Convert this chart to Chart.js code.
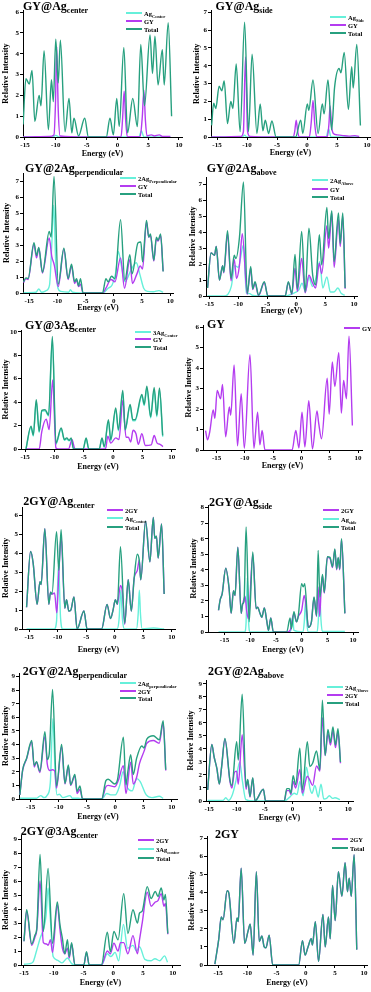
<!DOCTYPE html>
<html>
<head>
<meta charset="utf-8">
<script src="https://cdn.jsdelivr.net/npm/chart.js@4.4.1/dist/chart.umd.min.js"></script>
<style>
  body { margin: 0; width: 371px; height: 992px; position: relative; overflow: hidden; background: #fff;
         font-family: "Liberation Serif", "Times New Roman", serif; }
  canvas { position: absolute; }
  .ttl { position: absolute; font-weight: bold; font-size: 12px; line-height: 12px; white-space: nowrap; color: #000; }
  .ttl sub { font-size: 8px; vertical-align: -2.5px; line-height: 0; }
  .leg { position: absolute; height: 8px; display: flex; align-items: center; white-space: nowrap;
         font-weight: bold; font-size: 6.5px; color: #000; }
  .leg i { display: inline-block; width: 16px; height: 2px; margin-right: 2px; }
  .leg sub { font-size: 4.5px; vertical-align: -1.5px; line-height: 0; }
</style>
</head>
<body>
<script>
const GREEN = "#27a07f";
const PURPLE = "#b43cf0";
const CYAN = "#66f0da";

const xTicks = [-15, -10, -5, 0, 5, 10];
const yTicks6 = [0, 1, 2, 3, 4, 5, 6];
const yTicks7 = [0, 1, 2, 3, 4, 5, 6, 7];
const yTicks8 = [0, 1, 2, 3, 4, 5, 6, 7, 8];
const yTicks9 = [0, 1, 2, 3, 4, 5, 6, 7, 8, 9];
const yTicks10 = [0, 2, 4, 6, 8, 10];

// GY@Ag center
const p1TotE = [-15.3,-14.85,-14.3,-13.85,-13.4,-12.7,-12.4,-11.9,-11.2,-10.7,-10.4,-10.0,-9.6,-9.25,-8.5,-7.85,-7.4,-7.05,-6.3,-5.3,-4.7,-1.8,-1.2,-0.65,-0.1,0.3,1.05,1.65,2.5,3.25,3.8,4.4,5.3,5.7,6.1,6.6,7.3,7.6,8.25,8.8];
const p1TotI = [0.6,2.8,2.55,3.2,0.75,2.0,1.5,4.15,0.35,2.75,1.7,4.7,2.6,4.65,0.25,1.85,0.2,0.9,0.05,0.9,0,0,0.9,0.1,1.85,0.5,4.3,0.2,1.85,0.5,4.45,1.5,4.9,3.05,4.85,2.5,4.2,2.5,5.5,1.0];
const p1GyE = [-15.3,-11.0,-10.3,-10.05,-9.85,-9.6,-9.3,-5.0,-0.5,0.6,0.85,1.1,1.35,1.6,3.7,4.05,4.3,4.55,4.8,5.5,6.0,6.8,7.3,8.6];
const p1GyI = [0,0.03,0.1,1.6,4.35,1.3,0.05,0,0,0.02,0.9,2.2,0.8,0.02,0.02,1.0,2.25,0.8,0.05,0.1,0.05,0.1,0.03,0.03];
const p1AgE = [-15.3,-10.5,-10.0,-9.5,3.5,3.9,4.3,8.6];
const p1AgI = [0,0,0.08,0,0,0.3,0,0];

// GY@Ag side
const p2TotE = [-15.9,-15.55,-15.2,-14.65,-14.2,-13.8,-13.25,-12.7,-12.35,-11.8,-11.15,-10.4,-9.75,-9.15,-8.35,-7.8,-7.35,-6.95,-6.4,-5.85,-5.15,-1.9,-1.05,-0.7,0.05,0.3,1.0,1.85,2.55,2.85,3.5,4.1,4.6,5.35,5.65,6.2,6.9,7.45,7.7,8.3,8.9];
const p2TotI = [0.65,1.9,1.6,2.85,2.6,3.15,0.75,2.0,1.6,4.1,0.3,6.45,0.3,4.65,0.2,1.85,0.35,0.95,0.2,0.9,0,0,0.95,0.2,1.85,1.5,3.2,0.2,1.85,1.3,3.2,0.4,2.8,3.85,3.6,4.75,1.55,3.95,2.75,5.2,0.65];
const p2GyE = [-15.9,-11.0,-10.6,-10.25,-9.9,-9.5,-5,-2.3,-2.05,-1.8,-1.55,-1.3,0.4,0.7,1.0,1.3,1.6,3.4,3.65,3.85,4.1,4.4,5.0,6.0,7.0,8.0,8.7];
const p2GyI = [0,0.03,0.3,4.5,0.3,0.03,0,0,0.3,0.95,0.3,0,0.02,0.8,2.05,0.7,0.02,0.02,0.7,1.75,0.6,0.2,0.12,0.08,0.05,0.08,0.03];
const p2AgE = [-15.9,-10.8,-10.4,-10.0,3.2,3.6,4.0,8.7];
const p2AgI = [0,0,0.1,0,0,0.45,0,0];

// GY@2Ag perpendicular
const p3TotE = [-16.0,-15.6,-15.2,-14.15,-13.7,-13.3,-12.65,-11.45,-11.1,-10.6,-9.85,-8.85,-8.1,-7.5,-6.95,-6.6,-6.25,-5.9,-5.45,-2.0,-1.4,-1.0,-0.4,0.2,1.2,1.95,2.85,3.25,4.3,4.8,5.1,5.8,6.2,6.5,7.1,7.55,7.85,8.3,8.75];
const p3TotI = [0.7,0.95,0.9,3.15,2.35,2.85,1.3,3.85,3.5,7.3,0.55,2.8,0.9,1.8,0.7,0.9,0.45,0.9,0,0,0.9,0.7,1.05,0.9,4.6,0.8,2.4,1.2,3.15,3.2,1.95,4.55,3.5,3.7,2.05,3.5,3.3,3.7,1.35];
const p3GyE = [-16.0,-15.6,-15.2,-14.15,-13.7,-13.3,-12.65,-11.45,-11.0,-10.55,-9.85,-8.85,-8.1,-7.5,-6.95,-6.6,-6.25,-5.9,-5.45,-2.0,-1.4,-0.5,0.2,1.2,1.9,2.85,3.3,4.1,4.7,5.1,5.8,6.2,6.5,7.1,7.55,7.85,8.3,8.75];
const p3GyI = [0.65,0.9,0.85,3.05,2.2,2.8,1.25,3.45,2.3,1.75,0.4,2.75,0.85,1.7,0.6,0.8,0.4,0.55,0,0,0.3,0.85,0.7,2.2,0.3,2.1,0.6,1.2,1.7,1.5,4.45,3.5,3.6,2.0,3.4,3.25,3.6,1.36];
const p3AgE = [-16.0,-13.8,-13.3,-12.8,-12.0,-11.4,-11.0,-10.65,-10.3,-9.9,-9.4,-8.0,-7.7,-7.3,-6.0,-2.0,-1.0,-0.3,0.3,0.8,1.3,2.0,3.0,4.0,4.6,5.3,6.0,7.0,8.0,8.75];
const p3AgI = [0.02,0.05,0.25,0.05,0.15,0.5,3.0,5.5,2.0,0.3,0.1,0.05,0.2,0.05,0,0,0.3,0.5,1.2,2.6,1.8,0.7,1.4,1.9,1.2,0.3,0.1,0.08,0.15,0.05];

// GY@2Ag above
const p4TotE = [-15.3,-14.7,-14.1,-13.8,-13.25,-12.7,-12.5,-11.85,-11.25,-10.7,-10.4,-9.8,-9.1,-8.45,-7.85,-7.5,-7.1,-6.5,-5.5,-4.9,-1.9,-1.35,-0.75,-0.2,0.2,0.95,1.55,2.2,2.85,3.35,4.0,4.4,5.3,5.6,6.15,6.55,7.3,7.6,8.05,8.45];
const p4TotI = [0.5,2.7,2.55,3.1,1.0,1.9,1.5,4.1,1.1,2.55,2.35,3.65,7.15,0.15,1.85,0.45,0.9,0.05,0.9,0,0,0.9,0.15,2.6,0.45,4.05,0.25,4.25,1.3,0.7,3.85,1.95,5.55,3.6,5.35,2.15,5.2,3.3,5.2,0.5];
const p4GyE = [-15.3,-14.7,-14.1,-13.8,-13.25,-12.7,-12.5,-11.85,-11.25,-10.7,-10.3,-9.8,-9.3,-8.45,-7.85,-7.5,-7.1,-6.5,-5.5,-4.9,-1.9,-1.35,-0.75,-0.2,0.2,0.95,1.55,2.2,2.85,3.35,4.0,4.4,5.3,5.6,6.15,6.55,7.3,7.6,8.05,8.45];
const p4GyI = [0.5,2.7,2.55,3.1,1.0,1.9,1.45,3.9,0.95,2.3,1.1,1.9,3.9,0.1,1.75,0.4,0.8,0.02,0.85,0,0,0.85,0.1,1.75,0.3,2.35,0.2,1.3,0.8,0.5,2.05,1.4,4.4,3.0,5.2,1.8,4.8,3.1,5.0,0.45];
const p4AgE = [-15.3,-12.5,-11.8,-11.2,-10.6,-10.0,-9.1,-8.6,-8.0,-7.6,-6.5,-2.0,-0.3,0.5,1.0,1.6,2.2,2.8,3.4,4.05,4.6,5.3,5.9,6.5,7.2,7.8,8.4];
const p4AgI = [0,0,0.1,0.6,1.9,1.8,3.2,0.2,0.15,0.05,0,0,0.2,0.4,0.8,0.3,1.2,0.6,1.1,2.15,0.5,1.2,0.25,0.25,0.5,0.15,0.05];

// GY@3Ag center
const p5TotE = [-14.85,-14.0,-13.6,-13.1,-12.6,-12.15,-11.6,-11.0,-10.35,-9.75,-8.85,-8.3,-7.9,-7.5,-7.15,-6.75,-5.1,-4.6,-4.15,-2.35,-1.9,-1.5,-0.8,-0.4,0.45,0.9,1.65,2.05,2.9,3.35,3.75,4.9,5.3,5.75,6.4,7.0,7.45,7.9,8.45];
const p5TotI = [0,1.95,1.2,4.2,1.5,3.3,3.35,2.9,9.6,0.5,1.8,0.8,0.95,0.75,0.95,0,0,0.95,0,0,0.95,0.2,2.5,0.8,3.5,1.65,5.0,1.65,3.8,2.5,2.5,4.65,3.8,5.35,2.75,5.25,2.85,5.2,1.15];
const p5GyE = [-14.85,-12.6,-12.15,-11.4,-10.9,-10.3,-9.75,-9.4,-7.6,-7.0,-6.5,-1.3,-0.9,-0.4,0.45,1.0,1.65,2.2,2.6,3.0,3.4,3.9,4.3,4.9,5.5,6.5,7.0,7.5,8.0,8.5];
const p5GyI = [0,0,1.5,2.55,1.65,5.9,0.1,0,0,0.8,0,0,1.1,0.5,0.95,0.8,4.15,1.0,1.0,0.6,1.6,1.3,0.4,1.3,0.3,0.35,1.15,0.5,0.4,0.2];
const p5AgE = [-14.85,-14.0,-13.6,-13.1,-12.6,-12.15,-11.6,-11.0,-10.35,-9.75,-8.85,-8.3,-7.9,-7.5,-7.15,-6.75,-5.1,-4.6,-4.15,-2.35,-1.9,-1.5,-0.8,-0.4,0.45,0.9,1.65,2.05,2.9,3.35,3.75,4.9,5.3,5.75,6.4,7.0,7.45,7.9,8.45];
const p5AgI = [0,1.85,1.1,4.1,1.4,3.2,3.25,2.8,9.4,0.4,1.7,0.75,0.85,0.7,0.8,0,0,0.9,0,0,0.9,0.15,2.4,0.7,3.35,1.55,4.8,1.55,3.7,2.4,2.4,4.5,3.7,5.2,2.65,5.1,2.75,5.05,1.05];

// GY
const p6GyE = [-16.95,-16.6,-16.2,-15.6,-15.3,-14.9,-14.3,-13.95,-13.4,-12.75,-12.5,-11.9,-11.3,-10.65,-10.1,-9.1,-8.4,-7.75,-7.35,-6.95,-6.45,-1.65,-1.0,-0.45,0.1,0.6,1.3,1.95,2.75,3.05,3.55,4.55,4.9,5.45,5.9,6.6,7.05,7.45,7.95,8.4,9.0];
const p6GyI = [0.95,0.5,0.9,1.95,1.55,2.9,2.5,3.2,0.65,2.1,1.7,4.15,0.2,2.75,0.08,4.65,0.08,1.85,0.25,0.95,0,0,0.95,0.1,1.85,0.15,2.4,0.05,1.9,1.3,0.55,3.5,1.75,4.3,3.1,4.75,1.8,3.4,2.5,5.55,1.2];

// 2GY@Ag center
const p7TotE = [-15.45,-14.75,-14.3,-13.6,-13.1,-12.9,-12.25,-11.55,-11.25,-11.0,-10.2,-9.8,-9.4,-8.75,-8.45,-8.05,-7.7,-7.15,-6.6,-5.4,-4.85,-2.3,-1.35,-0.75,-0.3,0.1,0.45,1.0,1.75,2.35,2.9,3.4,3.95,4.3,4.55,5.4,6.15,6.75,7.0,7.3,7.6,8.2,8.65];
const p7TotI = [1.15,4.1,3.5,1.3,2.5,2.35,5.3,1.3,1.95,1.85,5.15,3.1,5.25,1.1,1.55,0.95,1.0,1.7,0,0.95,0,0,1.3,0.55,1.0,1.55,1.3,4.35,0.3,2.6,0.95,2.7,3.95,3.6,2.6,5.7,3.55,5.9,4.8,4.9,3.75,5.55,1.85];
const p7GyE = [-15.45,-14.75,-14.3,-13.6,-13.1,-12.9,-12.25,-11.55,-11.25,-11.0,-10.55,-10.15,-9.8,-9.4,-8.75,-8.45,-8.05,-7.7,-7.15,-6.6,-5.4,-4.85,-2.3,-1.35,-0.75,-0.3,0.1,0.45,1.0,1.35,1.75,2.35,2.9,3.4,3.95,4.3,4.55,5.4,6.15,6.75,7.0,7.3,7.6,8.2,8.65];
const p7GyI = [1.15,4.1,3.5,1.3,2.5,2.35,5.3,1.3,1.95,1.85,1.9,0.85,3.0,4.9,1.1,1.55,0.95,1.0,1.7,0,0.95,0,0,1.3,0.55,1.0,1.55,1.3,2.3,1.9,0.25,2.6,0.95,2.7,3.1,3.65,2.6,5.7,3.55,5.9,4.8,4.9,3.75,5.55,1.85];
const p7AgE = [-15.45,-10.6,-10.2,-9.85,-9.5,-9.1,0.4,0.75,1.05,1.35,1.7,3.8,4.1,4.3,4.5,4.8,6.8,8.65];
const p7AgI = [0,0,0.4,3.5,0.6,0,0,0.5,2.05,0.5,0,0,0.8,2.05,0.8,0,0.05,0];

// 2GY@Ag side
const p8TotE = [-16.15,-15.85,-15.45,-14.75,-14.1,-13.7,-13.25,-12.95,-12.4,-11.75,-11.5,-11.2,-10.8,-10.2,-9.5,-8.85,-8.55,-8.1,-7.75,-7.25,-6.8,-6.45,-6.0,-5.5,-2.9,-2.25,-2.0,-1.5,-1.0,-0.65,0.0,0.3,0.6,1.3,1.9,2.4,2.9,3.2,3.55,4.05,4.4,5.0,5.5,6.0,6.45,6.8,7.1,7.4,7.75,8.4];
const p8TotI = [1.4,2.05,2.45,4.1,2.8,1.2,2.65,2.35,5.45,1.2,1.8,1.95,6.75,0.65,5.15,1.5,1.6,1.2,0.95,1.55,0.75,0.1,0.9,0,0,0.9,0.2,1.3,0.65,1.05,3.1,2.9,3.1,0.3,0.65,2.25,1.05,5.25,2.25,3.7,2.55,4.85,4.8,4.2,5.35,4.05,4.8,4.05,6.0,1.2];
const p8GyE = [-16.15,-15.85,-15.45,-14.75,-14.1,-13.7,-13.25,-12.95,-12.4,-11.75,-11.5,-11.0,-10.7,-10.35,-9.5,-8.85,-8.55,-8.1,-7.75,-7.25,-6.8,-6.45,-6.0,-5.5,-2.9,-2.25,-1.5,-1.0,-0.65,0.0,0.5,1.0,1.3,1.9,2.4,2.9,3.2,3.5,3.8,4.05,4.4,5.0,5.5,6.0,6.45,6.8,7.1,7.4,7.75,8.4];
const p8GyI = [1.4,2.05,2.45,4.1,2.8,1.2,2.65,2.35,5.45,1.2,1.7,2.3,1.4,0.85,5.0,1.5,1.6,1.2,0.95,1.55,0.75,0.1,0.9,0,0,0.1,1.2,0.65,1.0,1.4,2.35,1.2,0.3,0.65,2.2,1.0,2.9,1.0,2.8,3.6,2.5,4.8,4.75,4.15,5.3,4.0,4.75,4.0,5.95,1.2];
const p8AgE = [-16.15,-11.1,-10.8,-10.55,-10.3,-10.0,-2.2,-1.95,-1.75,-1.5,0.2,0.5,0.75,1.0,1.3,3.0,3.25,3.5,3.75,4.0,8.4];
const p8AgI = [0,0,0.6,3.5,0.6,0,0,0.4,1.0,0.1,0,0.6,1.95,0.6,0,0,0.8,2.6,0.8,0.05,0.03];

// 2GY@2Ag perpendicular
const p9TotE = [-16.9,-16.4,-15.7,-14.8,-14.35,-13.95,-13.35,-12.45,-12.05,-11.7,-11.1,-10.4,-9.5,-8.9,-8.3,-7.9,-7.15,-6.75,-6.25,-5.8,-2.4,-1.65,-1.25,-0.05,0.4,1.45,1.9,2.2,2.75,3.2,3.8,4.7,5.1,5.6,6.75,7.8,8.5,8.95];
const p9TotI = [0.3,2.15,3.0,4.3,2.45,2.75,2.05,4.95,2.9,3.3,8.05,0.95,4.0,1.15,2.5,1.05,1.8,0.55,0.95,0,0,1.35,1.45,1.1,1.4,4.55,1.05,1.9,3.25,1.8,3.0,3.9,3.75,4.4,4.65,4.35,5.75,2.15];
const p9GyE = [-16.9,-16.4,-15.7,-14.8,-14.35,-13.95,-13.35,-12.45,-12.05,-11.6,-11.1,-10.7,-10.4,-9.5,-8.9,-8.3,-7.9,-7.15,-6.75,-6.25,-5.8,-2.4,-1.65,-1.25,-0.05,0.5,1.45,1.9,2.75,3.2,3.8,4.3,5.1,5.6,6.75,7.8,8.5,8.95];
const p9GyI = [0.3,2.1,2.95,4.2,2.35,2.7,1.95,4.6,2.6,2.1,2.15,2.05,0.8,3.85,1.1,2.4,1.0,1.7,0.4,0.7,0,0,0.9,1.0,0.9,1.3,2.45,0.4,2.7,1.1,1.6,2.6,3.5,4.1,4.3,4.1,5.6,2.1];
const p9AgE = [-16.9,-14.0,-13.2,-12.6,-12.0,-11.5,-11.05,-10.6,-10.3,-9.9,-9.3,-8.0,-7.6,-6.5,-5.8,-2.4,-1.5,-0.8,0.0,0.8,1.4,2.2,3.0,3.8,4.4,5.5,6.5,7.8,8.5];
const p9AgI = [0.05,0.05,0.25,0.1,0.3,1.2,5.9,1.5,0.3,0.35,0.1,0.25,0.05,0.05,0,0,0.4,0.3,0.3,1.0,2.0,0.8,0.6,1.5,1.3,0.3,0.1,0.2,0.05];

// 2GY@2Ag above
const p10TotE = [-15.25,-14.5,-14.1,-13.6,-13.15,-12.75,-12.15,-11.25,-10.9,-10.05,-9.75,-9.05,-8.35,-8.05,-7.65,-7.15,-6.75,-5.25,-4.85,-1.5,-1.05,-0.6,-0.3,0.1,0.55,1.3,1.75,2.65,3.1,3.6,4.3,4.9,5.35,5.85,6.35,6.8,7.25,7.7,8.15,8.6];
const p10TotI = [0.85,4.35,3.4,2.5,1.3,2.6,4.8,1.6,1.2,4.55,3.15,8.2,1.1,1.65,0.35,1.8,0,0.9,0,0,0.95,0.95,0.6,1.95,1.25,4.05,0.85,4.55,2.65,2.9,3.85,2.4,7.75,3.5,5.5,4.5,5.7,4.3,5.55,3.0];
const p10GyE = [-15.25,-14.5,-14.1,-13.6,-13.15,-12.75,-12.15,-11.25,-10.9,-10.45,-10.05,-9.75,-9.05,-8.35,-8.05,-7.65,-7.15,-6.75,-5.25,-4.85,-1.5,-1.05,-0.6,-0.3,0.1,0.55,1.3,1.75,2.65,3.1,3.6,4.3,4.6,4.9,5.35,5.85,6.35,6.8,7.25,7.7,8.15,8.6];
const p10GyI = [0.85,4.35,3.4,2.5,1.3,2.6,4.75,1.5,1.0,2.2,2.3,1.3,5.1,0.9,1.6,0.3,1.75,0,0.9,0,0,0.8,0.8,0.5,1.5,1.0,2.4,0.6,1.9,1.6,1.2,2.7,2.5,2.3,6.4,3.5,5.2,4.3,5.4,4.1,5.3,2.9];
const p10AgE = [-15.25,-12.5,-12.0,-11.5,-10.8,-10.2,-9.5,-9.0,-8.4,-7.0,-1.5,-0.5,0.3,0.8,1.3,1.9,2.5,3.1,3.5,4.0,4.6,5.1,5.6,6.1,6.6,7.2,7.6,8.5];
const p10AgI = [0.05,0.05,0.25,0.05,0.5,1.5,3.0,1.5,0.1,0,0,0.3,0.6,0.5,1.5,0.4,2.6,1.0,0.6,1.2,0.3,1.3,0.15,0.2,0.4,0.2,0.25,0.1];

// 2GY@3Ag center
const p11TotE = [-15.0,-14.55,-13.7,-13.15,-12.85,-12.3,-11.75,-10.95,-10.2,-9.4,-8.95,-8.55,-8.15,-7.7,-7.4,-7.0,-6.45,-4.95,-4.5,-4.05,-2.0,-1.0,-0.5,0.1,0.8,1.75,2.45,3.3,4.05,4.4,4.85,5.7,6.35,7.05,7.5,8.05,8.5,8.75,9.15];
const p11TotI = [1.7,3.95,1.5,2.15,2.6,7.9,2.4,6.9,1.55,4.5,2.85,1.9,0.8,1.8,0.6,1.6,0,0,0.95,0,0,2.35,0.95,2.4,1.8,5.1,2.25,3.95,3.0,3.7,3.85,5.6,4.75,5.25,4.9,5.5,4.65,5.05,2.25];
const p11GyE = [-15.0,-14.55,-13.7,-13.15,-12.85,-12.3,-11.75,-11.2,-10.95,-10.55,-10.2,-9.4,-8.95,-8.55,-8.15,-7.7,-7.4,-7.0,-6.45,-4.95,-4.5,-4.05,-2.0,-1.0,-0.5,0.1,0.8,1.2,1.75,2.45,3.3,4.05,4.4,4.85,5.7,6.35,7.05,7.5,8.05,8.5,8.75,9.15];
const p11GyI = [1.7,3.85,1.4,2.0,2.5,6.0,1.6,1.5,1.4,1.8,0.9,4.3,2.5,1.2,0.8,1.2,0.5,1.5,0,0,0.9,0,0,1.0,0.8,1.55,1.0,1.6,1.6,0.8,2.1,0.8,1.8,3.0,5.2,4.2,4.5,4.6,5.1,4.2,4.4,2.2];
const p11AgE = [-15.0,-14.0,-13.5,-12.9,-12.3,-11.7,-11.3,-10.95,-10.6,-10.1,-9.4,-8.6,-7.7,-7.0,-6.4,-2.0,-1.0,-0.4,0.3,0.9,1.7,2.4,3.3,3.9,4.4,5.3,6.3,7.0,7.8,8.6,9.1];
const p11AgI = [0.05,0.1,0.2,1.0,1.9,2.6,3.5,5.5,3.5,0.6,0.35,0.15,0.5,0.1,0,0,0.8,0.6,0.9,0.3,2.9,1.2,1.4,1.0,1.3,0.4,0.3,0.45,0.3,0.65,0.2];

// 2GY
const p12TotE = [-15.55,-14.9,-14.45,-14.15,-13.45,-13.15,-12.3,-11.75,-11.55,-11.05,-10.45,-9.85,-9.5,-9.0,-8.45,-7.95,-7.5,-7.1,-6.8,-6.25,-5.65,-1.2,-0.55,-0.1,0.4,0.95,1.15,1.65,2.2,2.95,3.35,3.9,4.2,4.6,5.05,5.6,6.2,6.75,7.15,7.45,7.8,8.3,8.75];
const p12TotI = [0.05,1.4,2.65,2.5,4.1,3.95,1.2,2.6,2.4,5.35,1.2,1.9,2.25,0.55,5.15,1.3,1.6,1.0,0.95,1.65,0,0,1.35,0.55,1.0,1.45,1.1,2.4,0.2,2.8,1.0,2.65,1.45,4.4,2.45,5.15,3.8,5.65,4.05,4.8,3.8,6.1,0.85];

const ORDER = { [GREEN]: 0, [PURPLE]: 1, [CYAN]: 2 };
const FONT = "'Liberation Serif', 'Times New Roman', serif";

// layout: area = [left, top, right, bottom] of plot box in page pixels
const panels = [
  { title: "GY@Ag<sub>center</sub>", tx: 23, tb: 10,
    area: [23, 10.1, 182, 137], xr: [-15.32, 10.49], ymax: 6.1, yt: yTicks6, yw: 23, xh: 22,
    leg: [126, 13, 8.2],
    series: [["Ag<sub>Center</sub>", CYAN, p1AgE, p1AgI], ["GY", PURPLE, p1GyE, p1GyI], ["Total", GREEN, p1TotE, p1TotI]] },
  { title: "GY@Ag<sub>side</sub>", tx: 215.5, tb: 10,
    area: [211, 10.6, 370, 137], xr: [-16.0, 10.5], ymax: 7.1, yt: yTicks7, yw: 20.5, xh: 21,
    leg: [330, 16.7, 8],
    series: [["Ag<sub>Side</sub>", CYAN, p2AgE, p2AgI], ["GY", PURPLE, p2GyE, p2GyI], ["Total", GREEN, p2TotE, p2TotI]] },
  { title: "GY@2Ag<sub>perpendicular</sub>", tx: 25, tb: 172,
    area: [23, 173, 173, 293], xr: [-16.1, 10.5], ymax: 7.52, yt: yTicks7, yw: 22, xh: 20,
    leg: [120, 178.3, 8],
    series: [["2Ag<sub>Perpendicular</sub>", CYAN, p3AgE, p3AgI], ["GY", PURPLE, p3GyE, p3GyI], ["Total", GREEN, p3TotE, p3TotI]] },
  { title: "GY@2Ag<sub>above</sub>", tx: 206.7, tb: 172.3,
    area: [206, 177, 357, 296], xr: [-15.57, 10.5], ymax: 7.46, yt: yTicks7, yw: 19.5, xh: 19.5,
    leg: [311.7, 180, 8.6],
    series: [["2Ag<sub>Above</sub>", CYAN, p4AgE, p4AgI], ["GY", PURPLE, p4GyE, p4GyI], ["Total", GREEN, p4TotE, p4TotI]] },
  { title: "GY@3Ag<sub>center</sub>", tx: 25, tb: 329,
    area: [21, 330, 175, 449], xr: [-15.7, 10.55], ymax: 10.15, yt: yTicks10, yw: 21, xh: 22.5,
    leg: [135, 332, 7.4],
    series: [["3Ag<sub>Center</sub>", CYAN, p5AgE, p5AgI], ["GY", PURPLE, p5GyE, p5GyI], ["Total", GREEN, p5TotE, p5TotI]] },
  { title: "GY", tx: 207, tb: 328,
    area: [203, 325, 362, 450], xr: [-17.4, 10.7], ymax: 6.1, yt: yTicks6, yw: 20, xh: 21,
    leg: [344, 328.3, 8],
    series: [["GY", PURPLE, p6GyE, p6GyI]] },
  { title: "2GY@Ag<sub>center</sub>", tx: 23.3, tb: 505,
    area: [22, 507, 175, 629], xr: [-16.25, 10.55], ymax: 6.45, yt: yTicks6, yw: 22, xh: 26,
    leg: [106.7, 510, 8.3],
    series: [["2GY", PURPLE, p7GyE, p7GyI], ["Ag<sub>Center</sub>", CYAN, p7AgE, p7AgI], ["Total", GREEN, p7TotE, p7TotI]] },
  { title: "2GY@Ag<sub>side</sub>", tx: 209, tb: 505.5,
    area: [208, 505, 358, 632], xr: [-18.2, 10.95], ymax: 8.17, yt: yTicks8, yw: 20, xh: 23,
    leg: [323, 510, 8.6],
    series: [["2GY", PURPLE, p8GyE, p8GyI], ["Ag<sub>side</sub>", CYAN, p8AgE, p8AgI], ["Total", GREEN, p8TotE, p8TotI]] },
  { title: "2GY@2Ag<sub>perpendicular</sub>", tx: 22.7, tb: 675,
    area: [19, 673, 177, 799], xr: [-17.05, 10.95], ymax: 9.26, yt: yTicks9, yw: 19, xh: 22.5,
    leg: [120, 682.7, 7.8],
    series: [["2Ag<sub>perpendicular</sub>", CYAN, p9AgE, p9AgI], ["2GY", PURPLE, p9GyE, p9GyI], ["Total", GREEN, p9TotE, p9TotI]] },
  { title: "2GY@2Ag<sub>above</sub>", tx: 208, tb: 675,
    area: [206, 680, 353, 801], xr: [-15.55, 10.85], ymax: 9.3, yt: yTicks9, yw: 21, xh: 22,
    leg: [326.7, 687.3, 8],
    series: [["2Ag<sub>Above</sub>", CYAN, p10AgE, p10AgI], ["2GY", PURPLE, p10GyE, p10GyI], ["Total", GREEN, p10TotE, p10TotI]] },
  { title: "2GY@3Ag<sub>center</sub>", tx: 20.7, tb: 835,
    area: [21, 835, 180, 965], xr: [-15.5, 11.2], ymax: 9.29, yt: yTicks9, yw: 21, xh: 23,
    leg: [138.3, 840, 9.1],
    series: [["2GY", PURPLE, p11GyE, p11GyI], ["3Ag<sub>center</sub>", CYAN, p11AgE, p11AgI], ["Total", GREEN, p11TotE, p11TotI]] },
  { title: "2GY", tx: 215, tb: 837.5,
    area: [207, 836, 367, 965], xr: [-16.9, 10.5], ymax: 7.13, yt: yTicks7, yw: 21, xh: 23,
    leg: [331.7, 839, 9.3],
    series: [["2GY", PURPLE, p12TotE, p12TotI], ["Total", GREEN, p12TotE, p12TotI]] }
];

function addTitle(p) {
  const d = document.createElement("div");
  d.className = "ttl";
  d.style.left = p.tx + "px";
  d.style.top = (p.tb - 10) + "px";
  d.innerHTML = p.title;
  document.body.appendChild(d);
}

function addLegend(p) {
  const [lx, ly, dy] = p.leg;
  p.series.forEach((s, i) => {
    const row = document.createElement("div");
    row.className = "leg";
    row.style.left = Math.round(lx) + "px";
    row.style.top = Math.round(ly + i * dy - 4) + "px";
    row.innerHTML = `<i style="background:${s[1]}"></i><span>${s[0]}</span>`;
    document.body.appendChild(row);
  });
}

function addChart(p) {
  const [L, T, R, B] = p.area;
  const cl = Math.round(L - p.yw), ct = Math.round(T - 6);
  const cw = Math.round(R + 6) - cl, ch = Math.round(B + p.xh) - ct;
  const canvas = document.createElement("canvas");
  canvas.width = cw;
  canvas.height = ch;
  canvas.style.left = cl + "px";
  canvas.style.top = ct + "px";
  canvas.style.width = cw + "px";
  canvas.style.height = ch + "px";
  document.body.appendChild(canvas);

  const yw = L - cl, pt = T - ct, pr = cl + cw - R, xh = ct + ch - B;
  const tickFont = { family: FONT, size: 7, weight: "bold" };
  const titleFont = { family: FONT, size: 8, weight: "bold" };
  const grid = { display: true, drawOnChartArea: false, drawTicks: true, tickLength: 3, color: "#000", lineWidth: 1 };
  const border = { display: true, color: "#000", width: 1 };

  new Chart(canvas.getContext("2d"), {
    type: "line",
    data: {
      datasets: p.series.map(s => ({
        label: s[0],
        data: s[2].map((x, i) => ({ x: x, y: s[3][i] })),
        borderColor: s[1],
        borderWidth: 1.4,
        pointRadius: 0,
        fill: false,
        cubicInterpolationMode: "monotone",
        order: ORDER[s[1]]
      }))
    },
    options: {
      responsive: false,
      animation: false,
      devicePixelRatio: 1,
      layout: { padding: { top: pt, right: pr, left: 0, bottom: 0 } },
      plugins: { legend: { display: false }, tooltip: { enabled: false } },
      scales: {
        x: {
          type: "linear", min: p.xr[0], max: p.xr[1],
          afterBuildTicks: s => { s.ticks = xTicks.map(v => ({ value: v })); },
          afterFit: s => { s.height = xh; },
          ticks: { font: tickFont, color: "#000", padding: 1, autoSkip: false, maxRotation: 0 },
          grid: grid, border: border,
          title: { display: true, text: "Energy (eV)", font: titleFont, color: "#000", padding: { top: 0, bottom: 0 } }
        },
        y: {
          type: "linear", min: 0, max: p.ymax,
          afterBuildTicks: s => { s.ticks = p.yt.map(v => ({ value: v })); },
          afterFit: s => { s.width = yw; },
          ticks: { font: tickFont, color: "#000", padding: 1, autoSkip: false },
          grid: grid, border: border,
          title: { display: true, text: "Relative Intensity", font: titleFont, color: "#000", padding: { top: 1, bottom: 0 } }
        }
      }
    }
  });
}

panels.forEach(p => {
  addChart(p);
  addTitle(p);
  addLegend(p);
});
</script>
</body>
</html>
